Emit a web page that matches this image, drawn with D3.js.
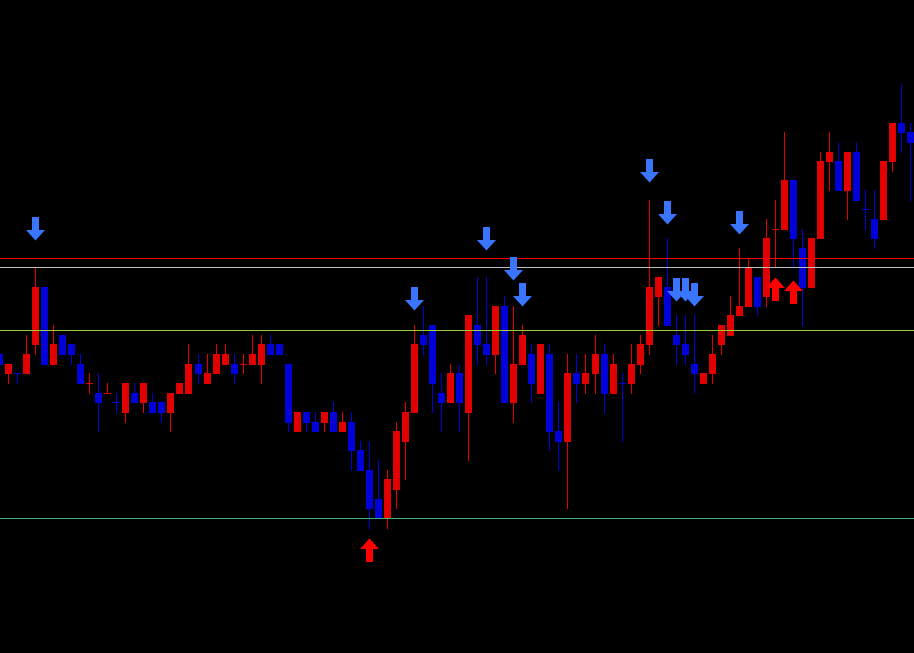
<!DOCTYPE html>
<html><head><meta charset="utf-8">
<script src="https://cdn.jsdelivr.net/npm/d3@7"></script>
<style>html,body{margin:0;padding:0;background:#000;overflow:hidden}</style>
</head><body><svg id="chart" width="914" height="653"></svg>
<script>
// Bar data (price in points)
const opens  = [1017,1015,1015,1015,1018,1024,1016,1019,1018,1016,1014,1013,1013,1012,1011,1013,1012,1012,1012,1011,1013,1013,1016,1014,1015,1016,1016,1016,1016,1016,1018,1018,1016,1009,1011,1010,1010,1011,1009,1010,1007,1005,1002,1000,1003,1008,1011,1019,1020,1013,1012,1015,1011,1020,1018,1017,1022,1012,1016,1017,1013,1017,1009,1008,1015,1014,1015,1017,1013,1014,1014,1016,1018,1023,1024,1019,1018,1016,1014,1015,1018,1019,1021,1022,1025,1023,1030,1030,1035,1028,1024,1029,1037,1037,1034,1038,1032,1031,1031,1037,1041,1040];
const highs  = [1017,1016,1015,1019,1026,1024,1020,1019,1018,1017,1015,1015,1014,1013,1014,1014,1014,1013,1012,1013,1014,1018,1017,1017,1018,1018,1017,1017,1019,1019,1019,1018,1016,1011,1011,1011,1011,1012,1011,1011,1008,1008,1006,1005,1010,1012,1020,1022,1020,1015,1016,1016,1021,1025,1025,1022,1023,1022,1020,1018,1018,1018,1012,1017,1017,1017,1019,1018,1017,1015,1018,1019,1033,1025,1029,1021,1021,1021,1015,1019,1020,1023,1028,1027,1025,1031,1033,1040,1035,1030,1029,1038,1040,1039,1038,1039,1034,1034,1037,1041,1045,1041];
const lows   = [1016,1014,1014,1015,1017,1016,1016,1017,1016,1014,1013,1009,1013,1011,1010,1012,1011,1011,1010,1009,1013,1013,1014,1014,1015,1016,1014,1015,1016,1014,1017,1017,1009,1009,1009,1009,1009,1009,1009,1005,1005,999,1000,999,1001,1004,1011,1017,1011,1009,1012,1009,1006,1016,1016,1015,1012,1010,1016,1012,1013,1007,1005,1001,1012,1013,1013,1011,1013,1008,1013,1015,1017,1020,1020,1016,1016,1013,1014,1014,1017,1019,1021,1022,1021,1022,1026,1030,1026,1020,1024,1029,1034,1034,1031,1033,1030,1028,1031,1036,1038,1033];
const closes = [1016,1016,1015,1017,1024,1016,1018,1017,1017,1014,1014,1012,1013,1012,1014,1012,1014,1011,1011,1013,1014,1016,1015,1015,1017,1017,1015,1016,1017,1018,1017,1017,1010,1011,1010,1009,1011,1009,1010,1007,1005,1001,1000,1004,1009,1011,1018,1018,1014,1012,1015,1012,1021,1018,1017,1022,1012,1016,1019,1014,1018,1009,1008,1015,1014,1015,1017,1013,1016,1014,1016,1018,1024,1025,1020,1018,1017,1015,1015,1017,1020,1021,1022,1026,1022,1029,1030,1035,1029,1024,1029,1037,1038,1034,1038,1033,1032,1029,1037,1041,1040,1039];

// Horizontal levels
const levelNames  = ["red","silver","yellowgreen","green"];
const levelPrices = [1027, 1026, 1019.5, 1000];
const levelColors = ["#ff0000","#c0c0c0","#9acd32","#3cb371"];

// Signal arrows
const sellIdx   = [4, 46, 54, 57, 58, 72, 74, 75, 76, 77, 82];
const sellPrice = [1028.8, 1021.6, 1027.8, 1024.7, 1022.0, 1034.8, 1030.5, 1022.5, 1022.5, 1022.0, 1029.4];
const buyIdx    = [41, 86, 88];
const buyPrice  = [997.8, 1024.9, 1024.6];

const W = 914, H = 653;
const upColor = "#e00000", downColor = "#0000d8";
const svg = d3.select("#chart").attr("shape-rendering","crispEdges");
svg.append("rect").attr("width",W).attr("height",H).attr("fill","#000");

const n = opens.length;
const bars = d3.range(n).map(i => ({i, o:opens[i], h:highs[i], l:lows[i], c:closes[i]}));
const x = d3.scaleLinear().domain([0, n-1]).range([-0.5, 910.8]);
const y = d3.scaleLinear().domain([1000, 1045]).range([518, 84]);
const left = i => Math.round(x(i) - 3.5);
const py = v => Math.round(y(v));
const colorOf = d => {
  if (d.c > d.o) return upColor;
  if (d.c < d.o) return downColor;
  const prev = d.i > 0 ? closes[d.i-1] : d.c;
  return d.c >= prev ? upColor : downColor;
};

const g = svg.append("g");
// wicks
g.selectAll("rect.wick").data(bars).join("rect").attr("class","wick")
  .attr("x", d => left(d.i) + 3).attr("width", 1)
  .attr("y", d => py(d.h)).attr("height", d => py(d.l) - py(d.h) + 1)
  .attr("fill", colorOf);
// bodies
g.selectAll("rect.body").data(bars).join("rect").attr("class","body")
  .attr("x", d => left(d.i)).attr("width", 7)
  .attr("y", d => py(Math.max(d.o,d.c)))
  .attr("height", d => py(Math.min(d.o,d.c)) - py(Math.max(d.o,d.c)) + 1)
  .attr("fill", colorOf);

// horizontal lines
svg.append("g").selectAll("rect").data(levelPrices).join("rect")
  .attr("x",0).attr("width",W).attr("y", d => py(d)).attr("height",1)
  .attr("fill", (d,i) => levelColors[i]);

// arrows
const ag = svg.append("g").attr("shape-rendering","auto");
const downArrow = (L, t) => `M${L},${t-23}H${L+7}V${t-10}H${L+13}L${L+3.5},${t+0.5}L${L-6},${t-10}H${L}Z`;
const upArrow = (L, t) => `M${L},${t+23}H${L+7}V${t+10}H${L+13}L${L+3.5},${t-0.5}L${L-6},${t+10}H${L}Z`;
ag.selectAll("path.sell").data(sellIdx).join("path").attr("class","sell")
  .attr("d", (k,j) => downArrow(left(k), py(sellPrice[j])))
  .attr("fill","#3a75ff");
ag.selectAll("path.buy").data(buyIdx).join("path").attr("class","buy")
  .attr("d", (k,j) => upArrow(left(k), py(buyPrice[j])))
  .attr("fill","#ff0000");
</script>
</body></html>
